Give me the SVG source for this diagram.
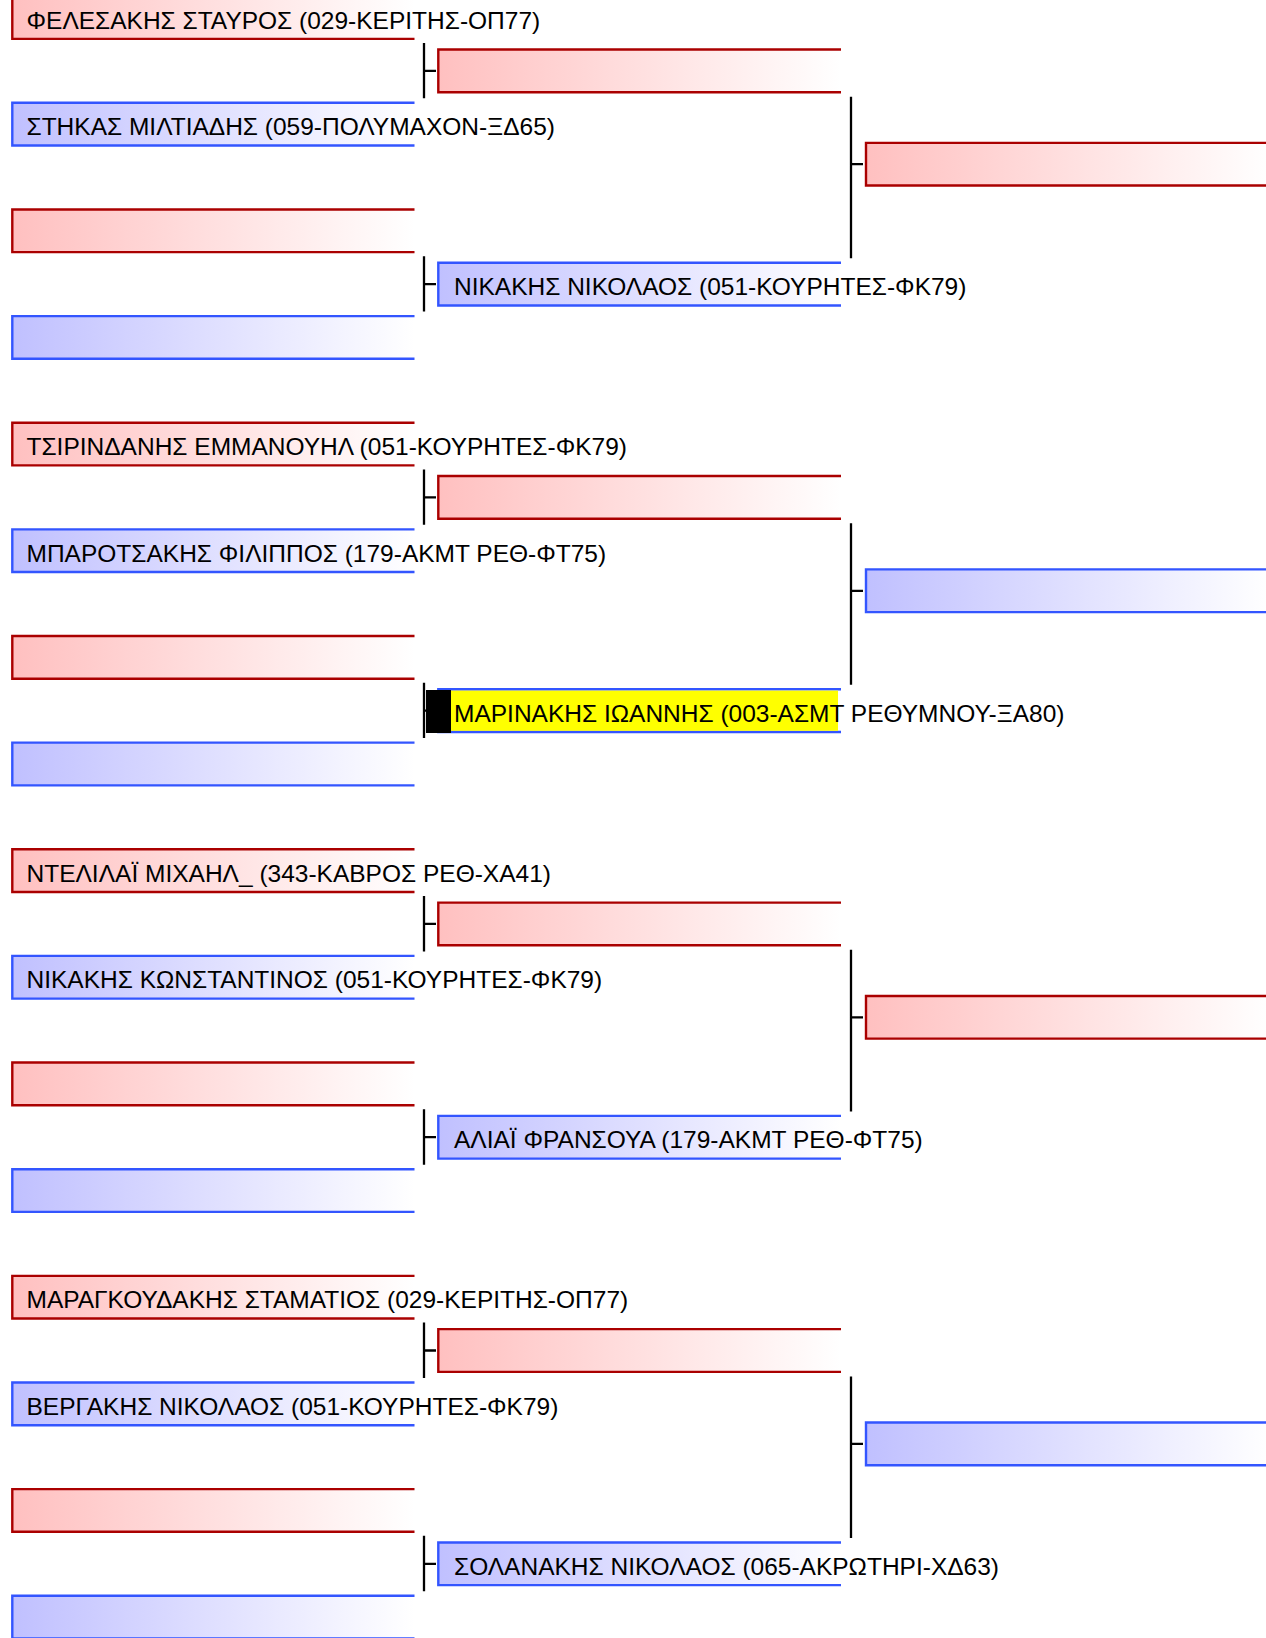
<svg xmlns="http://www.w3.org/2000/svg" width="1266" height="1638" viewBox="0 0 1266 1638">
<style>
.r{fill:url(#gr);stroke:#aa0000;stroke-width:2.4;stroke-linejoin:miter}
.b{fill:url(#gb);stroke:#3355ff;stroke-width:2.4;stroke-linejoin:miter}
.t{font-family:"Liberation Sans",Arial,sans-serif;font-size:24.5px;fill:#000}
.c{stroke:#000;stroke-width:2.3;fill:none}
</style>
<defs>
<linearGradient id="gr" x1="0" y1="0" x2="1" y2="0"><stop offset="0" stop-color="#ffc0c0"/><stop offset="1" stop-color="#ffffff"/></linearGradient>
<linearGradient id="gb" x1="0" y1="0" x2="1" y2="0"><stop offset="0" stop-color="#c0c0ff"/><stop offset="1" stop-color="#ffffff"/></linearGradient>
</defs>
<rect width="1266" height="1638" fill="#fff"/>
<g id="connectors">
<path class="c" d="M424,42.9V98.3M424,70.8H436"/>
<path class="c" d="M424,256.2V311.6M424,284.1H436"/>
<path class="c" d="M424,469.4V524.8M424,497.4H436"/>
<path class="c" d="M424,682.7V738.1M424,710.7H436"/>
<path class="c" d="M424,896V951.4M424,923.9H436"/>
<path class="c" d="M424,1109.3V1164.7M424,1137.2H436"/>
<path class="c" d="M424,1322.5V1377.9M424,1350.5H436"/>
<path class="c" d="M424,1535.8V1591.2M424,1563.8H436"/>
<path class="c" d="M851,96.7V258.3M851,164.2H863"/>
<path class="c" d="M851,523.2V684.8M851,590.8H863"/>
<path class="c" d="M851,949.8V1111.4M851,1017.3H863"/>
<path class="c" d="M851,1376.4V1538M851,1443.9H863"/>
</g>
<g id="r1-0"><path class="r" d="M414.5,-3.84H12.3V38.86H414.5"/><text class="t" x="26.5" y="28.5">ΦΕΛΕΣΑΚΗΣ ΣΤΑΥΡΟΣ (029-ΚΕΡΙΤΗΣ-ΟΠ77)</text></g>
<g id="r1-1"><path class="b" d="M414.5,102.8H12.3V145.5H414.5"/><text class="t" x="26.5" y="135.1">ΣΤΗΚΑΣ ΜΙΛΤΙΑΔΗΣ (059-ΠΟΛΥΜΑΧΟΝ-ΞΔ65)</text></g>
<g id="r1-2"><path class="r" d="M414.5,209.44H12.3V252.14H414.5"/></g>
<g id="r1-3"><path class="b" d="M414.5,316.08H12.3V358.78H414.5"/></g>
<g id="r1-4"><path class="r" d="M414.5,422.72H12.3V465.42H414.5"/><text class="t" x="26.5" y="455.1">ΤΣΙΡΙΝΔΑΝΗΣ ΕΜΜΑΝΟΥΗΛ (051-ΚΟΥΡΗΤΕΣ-ΦΚ79)</text></g>
<g id="r1-5"><path class="b" d="M414.5,529.36H12.3V572.06H414.5"/><text class="t" x="26.5" y="561.7">ΜΠΑΡΟΤΣΑΚΗΣ ΦΙΛΙΠΠΟΣ (179-ΑΚΜΤ ΡΕΘ-ΦΤ75)</text></g>
<g id="r1-6"><path class="r" d="M414.5,636H12.3V678.7H414.5"/></g>
<g id="r1-7"><path class="b" d="M414.5,742.64H12.3V785.34H414.5"/></g>
<g id="r1-8"><path class="r" d="M414.5,849.28H12.3V891.98H414.5"/><text class="t" x="26.5" y="881.6">ΝΤΕΛΙΛΑΪ ΜΙΧΑΗΛ_ (343-ΚΑΒΡΟΣ ΡΕΘ-ΧΑ41)</text></g>
<g id="r1-9"><path class="b" d="M414.5,955.92H12.3V998.62H414.5"/><text class="t" x="26.5" y="988.3">ΝΙΚΑΚΗΣ ΚΩΝΣΤΑΝΤΙΝΟΣ (051-ΚΟΥΡΗΤΕΣ-ΦΚ79)</text></g>
<g id="r1-10"><path class="r" d="M414.5,1062.56H12.3V1105.26H414.5"/></g>
<g id="r1-11"><path class="b" d="M414.5,1169.2H12.3V1211.9H414.5"/></g>
<g id="r1-12"><path class="r" d="M414.5,1275.84H12.3V1318.54H414.5"/><text class="t" x="26.5" y="1308.2">ΜΑΡΑΓΚΟΥΔΑΚΗΣ ΣΤΑΜΑΤΙΟΣ (029-ΚΕΡΙΤΗΣ-ΟΠ77)</text></g>
<g id="r1-13"><path class="b" d="M414.5,1382.48H12.3V1425.18H414.5"/><text class="t" x="26.5" y="1414.8">ΒΕΡΓΑΚΗΣ ΝΙΚΟΛΑΟΣ (051-ΚΟΥΡΗΤΕΣ-ΦΚ79)</text></g>
<g id="r1-14"><path class="r" d="M414.5,1489.12H12.3V1531.82H414.5"/></g>
<g id="r1-15"><path class="b" d="M414.5,1595.76H12.3V1638.46H414.5"/></g>
<g id="r2-0"><path class="r" d="M841,49.48H438.3V92.18H841"/></g>
<g id="r2-1"><path class="b" d="M841,262.76H438.3V305.46H841"/><text class="t" x="454" y="295.1">ΝΙΚΑΚΗΣ ΝΙΚΟΛΑΟΣ (051-ΚΟΥΡΗΤΕΣ-ΦΚ79)</text></g>
<g id="r2-2"><path class="r" d="M841,476.04H438.3V518.74H841"/></g>
<g id="r2-3"><path class="b" d="M841,689.32H438.3V732.02H841"/><rect x="451" y="690.6" width="387" height="40.2" fill="#ffff00"/><rect x="426" y="690" width="25" height="43" fill="#000"/><text class="t" x="454" y="721.7">ΜΑΡΙΝΑΚΗΣ ΙΩΑΝΝΗΣ (003-ΑΣΜΤ ΡΕΘΥΜΝΟΥ-ΞΑ80)</text></g>
<g id="r2-4"><path class="r" d="M841,902.6H438.3V945.3H841"/></g>
<g id="r2-5"><path class="b" d="M841,1115.88H438.3V1158.58H841"/><text class="t" x="454" y="1148.2">ΑΛΙΑΪ ΦΡΑΝΣΟΥΑ (179-ΑΚΜΤ ΡΕΘ-ΦΤ75)</text></g>
<g id="r2-6"><path class="r" d="M841,1329.16H438.3V1371.86H841"/></g>
<g id="r2-7"><path class="b" d="M841,1542.44H438.3V1585.14H841"/><text class="t" x="454" y="1574.8">ΣΟΛΑΝΑΚΗΣ ΝΙΚΟΛΑΟΣ (065-ΑΚΡΩΤΗΡΙ-ΧΔ63)</text></g>
<g id="r3-0"><path class="r" d="M1270,142.85H866V185.55H1270"/></g>
<g id="r3-1"><path class="b" d="M1270,569.41H866V612.11H1270"/></g>
<g id="r3-2"><path class="r" d="M1270,995.97H866V1038.67H1270"/></g>
<g id="r3-3"><path class="b" d="M1270,1422.53H866V1465.23H1270"/></g>
</svg>
